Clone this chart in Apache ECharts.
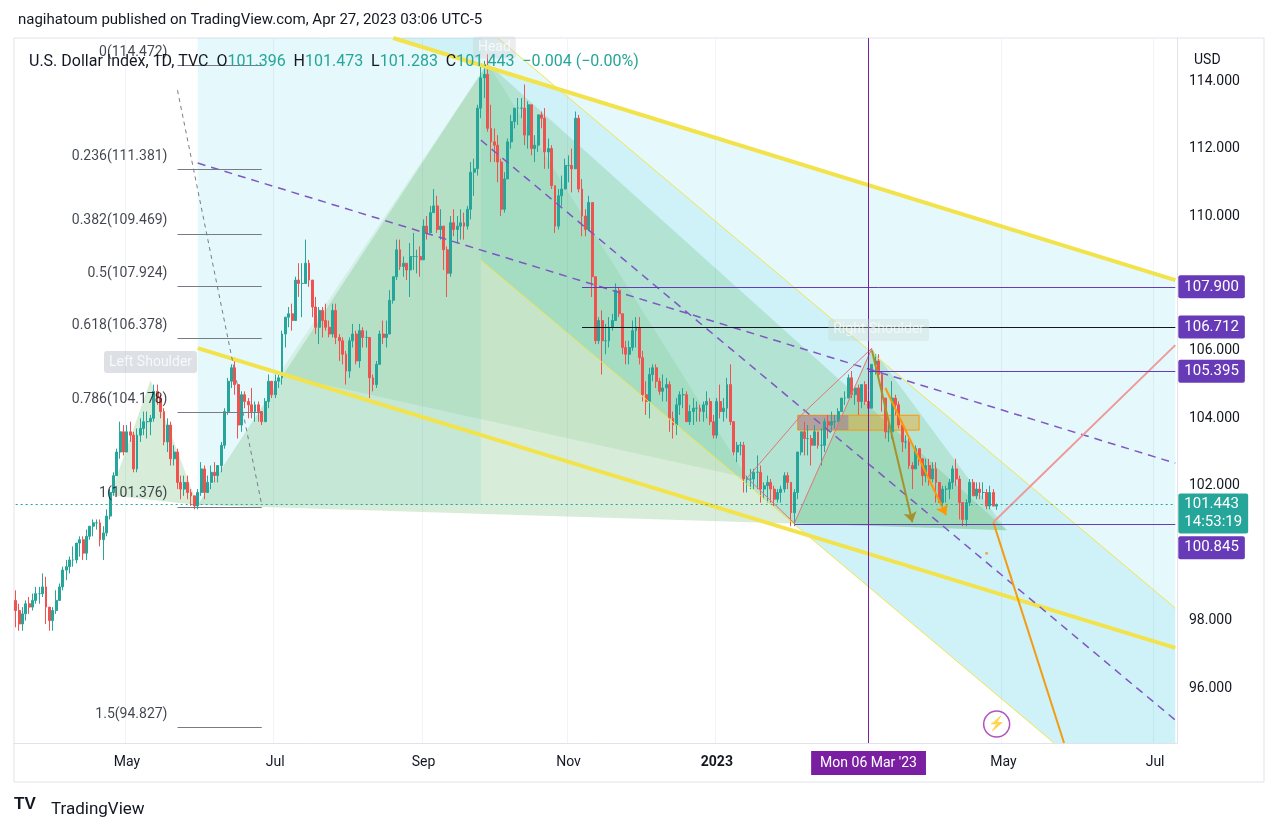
<!DOCTYPE html>
<html>
<head>
<meta charset="utf-8">
<script src="https://cdn.jsdelivr.net/npm/echarts@6/dist/echarts.min.js"></script>
<style>
  html, body { margin: 0; padding: 0; background: #fff; }
  #chart { width: 1278px; height: 830px; }
</style>
</head>
<body>
<div id="chart"></div>
<script>
// daily bars, Wed 16 Mar 2022 .. Thu 27 Apr 2023, each [close, high, low], open = previous close
var bars = [
  [98.3,98.9,97.8],[97.9,98.5,97.7],[98.2,98.4,97.7],
  [98.5,98.6,98.0],[98.4,98.7,98.2],[98.6,98.8,98.3],[98.8,99.0,98.5],[98.8,99.0,98.5],
  [99.0,99.4,98.7],[98.4,99.3,97.9],[98.0,98.4,97.7],[98.3,98.4,97.7],[98.6,98.9,98.2],
  [99.0,99.1,98.6],[99.5,99.6,98.9],[99.6,99.8,99.2],[99.8,99.9,99.4],[99.8,100.2,99.6],
  [100.3,100.3,99.7],[100.4,100.5,99.9],[100.0,100.5,99.8],[100.5,100.7,99.8],[100.8,100.8,100.4],
  [100.9,101.0,100.5],[100.9,101.0,100.7],[100.4,101.0,100.2],[100.6,100.8,99.8],[101.1,101.3,100.5],
  [101.8,101.9,101.0],[102.3,102.4,101.7],[103.0,103.1,102.3],[103.6,103.9,102.8],[103.0,103.8,102.9],
  [103.6,103.8,103.0],[103.5,103.9,103.3],[102.5,103.6,102.4],[103.5,103.7,102.4],[103.7,104.0,103.3],
  [103.9,104.2,103.5],[103.9,104.2,103.4],[104.0,104.1,103.5],[104.8,105.0,103.9],[104.6,105.0,104.4],
  [104.2,104.7,104.0],[103.3,104.3,103.2],[103.8,104.0,103.0],[102.8,103.9,102.6],[103.0,103.2,102.6],
  [102.1,103.1,101.9],[101.9,102.3,101.6],[102.1,102.3,101.7],[101.8,102.3,101.6],[101.7,101.9,101.4],
  [101.4,101.7,101.3],[101.8,101.9,101.3],[102.5,102.7,101.7],[101.8,102.6,101.6],[102.1,102.3,101.8],
  [102.4,102.6,101.9],[102.3,102.7,102.1],[102.6,102.6,102.1],[103.2,103.3,102.4],[104.2,104.3,103.1],
  [105.1,105.2,104.1],[105.5,105.6,104.9],[105.0,105.8,104.7],[103.8,105.0,103.4],[104.7,104.8,103.6],
  [104.5,104.8,104.3],[104.4,104.6,104.0],[104.2,104.9,104.0],[104.4,104.5,103.9],[104.2,104.5,103.9],
  [103.9,104.2,103.8],[104.5,104.6,103.9],[105.1,105.3,104.3],[104.7,105.1,104.6],[105.1,105.3,104.6],
  [105.2,105.3,104.9],[106.5,106.6,105.0],[107.0,107.0,106.1],[107.1,107.3,106.7],[106.9,107.4,106.6],
  [108.1,108.2,106.9],[108.0,108.6,107.6],[108.0,108.6,107.0],[108.6,109.3,108.0],[108.1,108.7,107.9],
  [107.3,108.0,107.0],[106.7,107.6,106.5],[107.2,107.3,106.2],[106.9,107.3,106.4],[106.7,107.4,106.6],
  [106.5,106.9,106.4],[107.2,107.4,106.4],[106.4,107.4,106.2],[106.3,106.5,105.7],[105.9,106.4,105.6],
  [105.4,106.0,105.0],[106.3,106.4,105.2],[106.5,106.8,106.1],[105.7,106.6,105.6],[106.6,106.8,105.5],
  [106.4,106.7,106.1],[106.4,106.6,106.1],[105.2,106.3,104.6],[105.0,105.3,104.8],[105.6,105.7,104.9],
  [106.5,106.6,105.6],[106.4,106.9,106.2],[106.5,106.9,106.1],[107.5,107.8,106.5],[108.2,108.2,107.4],
  [109.0,109.3,108.1],[108.5,109.3,108.4],[108.6,108.8,108.2],[108.4,108.6,108.1],[108.8,109.2,107.6],
  [108.8,109.5,108.4],[108.8,109.0,108.3],[108.7,109.1,108.2],[109.7,109.9,108.7],[109.5,110.0,109.3],
  [110.1,110.3,109.5],[110.3,110.8,110.1],[109.6,110.6,109.5],[109.7,110.2,109.3],[109.0,109.6,108.4],
  [108.3,109.1,107.6],[109.8,110.0,108.2],[109.6,110.2,109.4],[109.7,110.0,109.2],[109.8,110.2,109.3],
  [109.7,110.1,109.3],[110.2,110.3,109.6],[111.3,111.6,109.9],[111.4,111.7,110.6],[113.2,113.3,111.2],
  [114.1,114.5,112.9],[114.2,114.6,113.5],[112.6,114.8,112.5],[112.2,113.3,111.6],[112.1,112.6,111.6],
  [111.6,112.4,111.0],[110.2,111.7,110.0],[111.1,111.3,110.1],[112.2,112.3,111.1],[112.8,113.0,112.0],
  [113.2,113.2,112.6],[113.2,113.5,112.7],[113.2,113.5,112.9],[112.4,113.9,112.1],[113.3,113.4,112.0],
  [112.0,113.3,111.8],[112.1,112.4,111.6],[113.0,113.0,111.9],[112.9,113.1,112.6],[111.9,113.2,111.4],
  [112.0,112.3,111.4],[110.9,112.1,110.8],[109.7,110.9,109.5],[110.6,110.8,109.6],[110.8,111.2,110.3],
  [111.5,111.7,110.8],[111.5,111.8,111.0],[111.4,112.0,110.7],[112.9,113.1,111.4],[110.8,113.0,110.7],
  [110.0,111.1,109.4],[109.6,110.2,109.4],[110.4,110.6,109.6],[108.2,110.4,107.6],[106.3,108.2,106.2],
  [106.9,107.0,106.2],[106.3,107.2,105.3],[106.3,106.8,105.9],[106.7,107.0,106.1],[106.9,107.1,106.6],
  [107.8,108.0,106.9],[107.1,107.9,107.0],[106.1,107.1,105.9],[105.9,106.3,105.6],[106.1,106.3,105.6],
  [106.6,106.9,106.0],[106.7,107.0,106.1],[105.8,107.0,105.6],[104.7,106.0,104.5],[104.5,105.1,104.1],
  [105.3,105.5,104.0],[105.5,105.6,105.1],[105.1,105.6,104.9],[104.8,105.2,104.7],[104.9,105.3,104.5],
  [105.0,105.2,104.5],[104.0,105.1,103.6],[103.8,104.2,103.4],[104.4,104.6,103.5],[104.7,104.8,104.1],
  [104.7,104.9,104.3],[103.9,104.8,103.9],[104.2,104.4,103.8],[104.3,104.6,103.8],[104.3,104.5,103.9],
  [104.2,104.4,103.9],[104.4,104.5,103.9],[104.5,104.8,104.0],[103.9,104.6,103.8],[103.5,104.1,103.4],
  [104.5,104.6,103.4],[104.2,105.0,104.0],[104.3,104.6,103.9],[105.0,105.2,104.0],[103.9,105.6,103.8],
  [103.0,103.9,102.9],[103.2,103.3,102.7],[103.2,103.3,102.9],[102.2,103.3,101.8],[102.2,102.3,101.8],
  [102.2,102.5,101.9],[102.4,102.5,101.9],[102.4,102.9,101.9],[101.9,102.6,101.5],[102.0,102.1,101.6],
  [102.1,102.3,101.5],[101.9,102.2,101.5],[101.6,102.0,101.4],[101.8,101.9,101.5],[101.9,102.0,101.5],
  [102.3,102.4,101.8],[102.1,102.4,101.9],[101.2,102.1,100.8],[101.8,101.9,100.8],[103.0,103.0,101.6],
  [103.6,103.6,102.9],[103.4,103.9,102.9],[103.4,103.8,102.9],[103.2,103.5,102.6],[103.6,103.8,103.2],
  [103.2,103.6,103.1],[103.2,103.7,102.6],[103.9,104.0,103.0],[103.8,104.1,103.4],[103.9,104.2,103.6],
  [103.9,104.1,103.7],[104.2,104.3,103.9],[104.6,104.6,104.2],[104.6,104.8,104.4],[105.2,105.3,104.6],
  [104.7,105.4,104.6],[104.9,104.9,104.4],[104.5,105.0,104.1],[105.0,105.0,104.3],[104.5,105.1,104.4],
  [104.3,104.7,104.1],[105.6,105.6,104.3],[105.7,105.9,105.3],[105.3,105.9,105.2],[104.6,105.4,104.2],
  [103.6,104.5,103.4],[103.6,103.9,103.3],[104.6,105.1,103.4],[104.4,104.7,104.1],[103.8,104.5,103.7],
  [103.3,103.9,103.0],[103.3,103.5,103.1],[102.6,103.4,102.5],[102.5,102.7,101.9],[103.1,103.2,102.5],
  [102.8,103.1,102.6],[102.3,102.8,102.0],[102.6,102.8,102.1],[102.2,102.8,102.0],[102.5,102.7,102.1],
  [102.1,102.7,101.5],[101.5,102.1,101.5],[101.9,102.0,101.3],[101.9,102.0,101.5],[102.1,102.2,101.6],
  [102.5,102.6,101.9],[102.2,102.8,102.0],[101.5,102.3,101.0],[101.0,101.5,100.8],[101.5,101.6,100.8],
  [102.1,102.2,101.4],[101.7,102.2,101.7],[101.9,102.1,101.6],[101.8,102.1,101.6],[101.8,102.1,101.6],
  [101.4,101.9,101.3],[101.8,102.0,101.3],[101.396,101.9,101.4],[101.443,101.473,101.283]
];
var firstOpen = 98.6;

var priceTicks = [96, 98, 100, 102, 104, 106, 108, 110, 112, 114];
var fibLevels = [['0', 114.472], ['0.236', 111.381], ['0.382', 109.469], ['0.5', 107.924],
                 ['0.618', 106.378], ['0.786', 104.178], ['1', 101.376], ['1.5', 94.827]];
var priceBoxes = [['2022-11-05', 107.9, '#673ab7'], ['2022-11-05', 106.712, '#131722'],
                  ['2023-03-06', 105.395, '#673ab7'], ['2023-02-02', 100.845, '#673ab7']];
var lastPrice = 101.443;

// drawings in [date, price]
var fills = [
  { pts: [['2022-05-31',101.43],['2022-05-31',115.28],['2022-09-24',115.28],['2022-09-24',101.43]], c: 'rgba(0,188,212,0.10)' },
  { pts: [['2022-08-19',115.28],['2023-07-11',108.1],['2023-07-11',94.37],['2023-05-22',94.37],['2022-09-24',108.69],['2022-09-24',115.28]], c: 'rgba(0,188,212,0.10)' },
  { pts: [['2022-10-03',115.28],['2023-07-11',98.37],['2023-07-11',94.37],['2023-05-22',94.37],['2022-09-24',108.69],['2022-09-24',115.28]], c: 'rgba(0,188,212,0.10)' },
  { pts: [['2022-05-31',101.43],['2022-09-28',114.53],['2023-05-02',100.68]], c: 'rgba(76,175,80,0.22)' },
  { pts: [['2022-04-25',101.72],['2022-05-11',105.13],['2022-05-31',101.43]], c: 'rgba(76,175,80,0.22)' },
  { pts: [['2022-07-04',105.3],['2022-09-28',114.53],['2023-01-13',102.23]], c: 'rgba(76,175,80,0.12)' },
  { pts: [['2023-02-02',100.89],['2023-03-07',106.08],['2023-05-02',100.68]], c: 'rgba(76,175,80,0.2)' },
  { pts: [['2023-02-03',104.09],['2023-03-27',104.09],['2023-03-27',103.65],['2023-02-03',103.65]], c: 'rgba(255,152,0,0.35)', b: '#ff9800' },
  { pts: [['2023-02-03',104.09],['2023-02-24',104.09],['2023-02-24',103.65],['2023-02-03',103.65]], c: 'rgba(126,87,194,0.35)' }
];
var segments = [
  { a: ['2022-08-19',115.28], b: ['2023-07-11',108.1], c: '#f2e34c', w: 4 },
  { a: ['2022-05-31',106.08], b: ['2023-07-11',97.19], c: '#f2e34c', w: 4 },
  { a: ['2022-10-03',115.28], b: ['2023-07-11',98.37], c: '#f2e34c', w: 1 },
  { a: ['2022-09-24',108.69], b: ['2023-05-22',94.37], c: '#f2e34c', w: 1 },
  { a: ['2022-05-31',111.57], b: ['2023-07-11',102.67], c: '#7e57c2', w: 1.5, t: [8, 6] },
  { a: ['2022-09-24',112.25], b: ['2023-07-11',95.05], c: '#7e57c2', w: 1.5, t: [8, 6] },
  { a: ['2022-05-23',113.73], b: ['2022-06-27',101.43], c: '#787b86', w: 1, t: [4, 4] },
  { a: ['2023-01-13',102.23], b: ['2023-02-06',104.09], c: '#e57373', w: 1 },
  { a: ['2023-02-06',104.09], b: ['2023-03-07',106.08], c: '#e57373', w: 1 },
  { a: ['2023-01-13',102.23], b: ['2023-02-02',100.89], c: '#e57373', w: 1 },
  { a: ['2023-02-02',100.89], b: ['2023-03-07',106.08], c: '#e57373', w: 1 },
  { a: ['2023-03-07',106.02], b: ['2023-03-23',100.92], c: '#a8912a', w: 2, arrow: true },
  { a: ['2023-03-13',104.9], b: ['2023-04-06',101.13], c: '#ff9800', w: 2, arrow: true },
  { a: ['2023-04-26',100.92], b: ['2023-05-25',94.37], c: '#f39c12', w: 2 },
  { a: ['2023-04-26',100.92], b: ['2023-07-11',106.17], c: '#ef9a9a', w: 2 }
];
var notes = [
  { at: ['2022-05-11',105.67], text: 'Left Shoulder', bg: 'rgba(160,170,180,0.45)', fg: '#fff' },
  { at: ['2022-09-30',115.0], text: 'Head', bg: 'rgba(200,205,210,0.45)', fg: 'rgba(255,255,255,0.9)' },
  { at: ['2023-03-09',106.62], text: 'Right Shoulder', bg: 'rgba(200,215,210,0.45)', fg: 'rgba(255,255,255,0.8)' }
];

// weekday categories Wed 16 Mar 2022 .. Tue 11 Jul 2023
function ymd(t) { return new Date(t).toISOString().slice(0, 10); }
var cats = [];
for (var t = Date.UTC(2022, 2, 16); t <= Date.UTC(2023, 6, 11); t += 864e5) {
  var dw = new Date(t).getUTCDay();
  if (dw !== 0 && dw !== 6) cats.push(ymd(t));
}
function snap(s) {
  var t = Date.parse(s + 'T00:00:00Z');
  while ([0, 6].indexOf(new Date(t).getUTCDay()) >= 0) t += 864e5;
  return ymd(t);
}
function idx(s) { return cats.indexOf(snap(s)); }

var candles = cats.map(function (c, i) {
  if (i >= bars.length) return '-';
  var o = i === 0 ? firstOpen : bars[i - 1][0];
  var b = bars[i];
  return [o, b[0], Math.min(b[2], o, b[0]), Math.max(b[1], o, b[0])];
});

// month labels: first weekday of odd months, March 2023 hidden under crosshair label
var monthNames = ['Jan','Feb','Mar','Apr','May','Jun','Jul','Aug','Sep','Oct','Nov','Dec'];
var labelIdx = {};
cats.forEach(function (c, i) {
  if (i > 0 && c.slice(5, 7) !== cats[i - 1].slice(5, 7)) {
    var m = +c.slice(5, 7);
    if (m % 2 === 1 && c.slice(0, 7) !== '2023-03') labelIdx[i] = true;
  }
});

var mlData = segments.map(function (s) {
  return [
    { coord: [snap(s.a[0]), s.a[1]], symbol: 'none',
      lineStyle: { color: s.c, width: s.w, type: s.t || 'solid' } },
    { coord: [snap(s.b[0]), s.b[1]], symbol: s.arrow ? 'arrow' : 'none', symbolSize: 10 }
  ];
});
fibLevels.forEach(function (f) {
  mlData.push([{ coord: ['2022-05-23', f[1]], symbol: 'none', lineStyle: { color: '#787b86', width: 1, type: 'solid' } },
               { coord: ['2022-06-27', f[1]], symbol: 'none' }]);
});
var boxLabel = { show: true, position: 'end', distance: 3, color: '#fff', fontSize: 15,
                 fontFamily: 'Roboto', padding: [4, 6], borderRadius: 2 };
var boxOffsets = { 100.845: [0, 23] };
priceBoxes.forEach(function (p) {
  mlData.push([{ coord: [snap(p[0]), p[1]], symbol: 'none', lineStyle: { color: p[2], width: 1, type: 'solid' },
                 label: Object.assign({}, boxLabel, { formatter: p[1].toFixed(3), backgroundColor: '#673ab7',
                                                      offset: boxOffsets[p[1]] || [0, 0] }) },
               { coord: ['2023-07-11', p[1]], symbol: 'none' }]);
});
mlData.push([{ coord: [cats[0], lastPrice], symbol: 'none', lineStyle: { color: '#26a69a', width: 1, type: [2, 3] },
               label: Object.assign({}, boxLabel, { formatter: '101.443\n14:53:19', lineHeight: 18,
                                                     backgroundColor: '#26a69a', padding: [2, 6], offset: [0, 9] }) },
             { coord: ['2023-07-11', lastPrice], symbol: 'none' }]);
mlData.push({ xAxis: '2023-03-06', symbol: 'none', lineStyle: { color: '#7b1fa2', width: 1, type: 'solid' },
              label: { show: true, position: 'start', distance: 8, formatter: "Mon 06 Mar '23",
                       backgroundColor: '#7b1fa2', color: '#fff', fontSize: 14, padding: [5, 9], fontFamily: 'Roboto' } });

var noteData = notes.map(function (n) {
  return { value: [snap(n.at[0]), n.at[1]],
           label: { show: true, formatter: n.text, position: 'inside', backgroundColor: n.bg, color: n.fg,
                    fontSize: 14, padding: [4, 5], borderRadius: 3, fontFamily: 'Roboto' } };
});
fibLevels.forEach(function (f) {
  noteData.push({ value: ['2022-05-23', f[1]],
                  label: { show: true, formatter: f[0] + '(' + f[1].toFixed(3) + ')', position: 'left',
                           distance: 10, offset: [0, -13], color: '#131722', fontSize: 14, fontFamily: 'Roboto' } });
});

var myChart = echarts.init(document.getElementById('chart'), null, { renderer: 'canvas' });
var option = {
  animation: false,
  textStyle: { fontFamily: 'Roboto' },
  title: [
    { text: 'nagihatoum published on TradingView.com, Apr 27, 2023 03:06 UTC-5', left: 13, top: 8,
      textStyle: { fontSize: 15, fontWeight: 'normal', color: '#131722', fontFamily: 'Roboto' } },
    { text: '{k|U.S. Dollar Index, 1D, TVC  O}{v|101.396}{k|  H}{v|101.473}{k|  L}{v|101.283}{k|  C}{v|101.443}{v|  \u22120.004 (\u22120.00%)}',
      left: 24, top: 49,
      textStyle: { fontWeight: 'normal',
                   rich: { k: { fontSize: 16, fontWeight: 'normal', color: '#131722', fontFamily: 'Roboto' },
                           v: { fontSize: 16, fontWeight: 'normal', color: '#26a69a', fontFamily: 'Roboto' } } } },
    { text: 'USD', left: 1189, top: 48, textStyle: { fontSize: 14, fontWeight: 'normal', color: '#131722' } },
    { text: 'TradingView', left: 46, top: 796, textStyle: { fontSize: 17, fontWeight: 'normal', color: '#131722' } }
  ],
  graphic: [
    { type: 'rect', shape: { x: 14, y: 38, width: 1250, height: 744 }, style: { fill: 'none', stroke: '#e0e3eb' }, silent: true },
    { type: 'text', left: 14, top: 796, style: { text: 'TV', fontSize: 17, fontWeight: 'bold', fill: '#131722' } }
  ],
  grid: { left: 14, right: 101, top: 38, bottom: 87 },
  xAxis: {
    type: 'category', data: cats, boundaryGap: true,
    axisLine: { lineStyle: { color: '#e0e3eb' } },
    axisTick: { show: false },
    splitLine: { show: true, interval: function (i) { return !!labelIdx[i]; }, lineStyle: { color: '#f0f3fa' } },
    axisLabel: {
      interval: function (i) { return !!labelIdx[i]; }, margin: 12, fontSize: 14, color: '#131722',
      formatter: function (v) {
        var m = +v.slice(5, 7);
        return m === 1 ? '{y|' + v.slice(0, 4) + '}' : monthNames[m - 1];
      },
      rich: { y: { fontWeight: 'bold', fontSize: 14, color: '#131722' } }
    }
  },
  yAxis: {
    type: 'value', position: 'right', min: 94.37, max: 115.28, scale: true,
    axisLine: { show: true, lineStyle: { color: '#e0e3eb' } },
    axisTick: { show: false },
    splitLine: { show: false },
    axisLabel: { customValues: priceTicks, margin: 12, fontSize: 14, color: '#131722',
                 formatter: function (v) { return v.toFixed(3); } }
  },
  series: [
    {
      type: 'custom', name: 'fills', silent: true, z: 1,
      data: fills.map(function (f, i) { return [idx(f.pts[0][0]), f.pts[0][1], i]; }),
      renderItem: function (params, api) {
        var f = fills[params.dataIndex];
        var pts = f.pts.map(function (p) { return api.coord([idx(p[0]), p[1]]); });
        return { type: 'polygon', shape: { points: pts },
                 style: { fill: f.c, stroke: f.b || null, lineWidth: f.b ? 1 : 0 } };
      },
      clip: true
    },
    {
      type: 'candlestick', name: 'DXY', data: candles, barWidth: 2.4, z: 3,
      itemStyle: { color: '#26a69a', color0: '#ef5350', borderColor: '#26a69a', borderColor0: '#ef5350', borderWidth: 1 }
    },
    {
      type: 'line', name: 'drawings', data: [], z: 4,
      markLine: { silent: true, symbol: ['none', 'none'], animation: false, label: { show: false }, data: mlData }
    },
    {
      type: 'scatter', name: 'notes', symbolSize: 0, z: 5, silent: true, data: noteData
    },
    {
      type: 'scatter', name: 'marks', silent: true, z: 5,
      data: [
        { value: ['2023-04-24', 100.0], symbolSize: 3, itemStyle: { color: '#f39c12' } },
        { value: ['2023-04-27', 94.93], symbolSize: 26,
          itemStyle: { color: '#fff', borderColor: '#9c27b0', borderWidth: 1.5 },
          label: { show: true, position: 'inside', formatter: '\u26a1', color: '#9c27b0', fontSize: 14 } }
      ]
    }
  ]
};

myChart.setOption(option);
window.addEventListener('resize', myChart.resize);
</script>
</body>
</html>
